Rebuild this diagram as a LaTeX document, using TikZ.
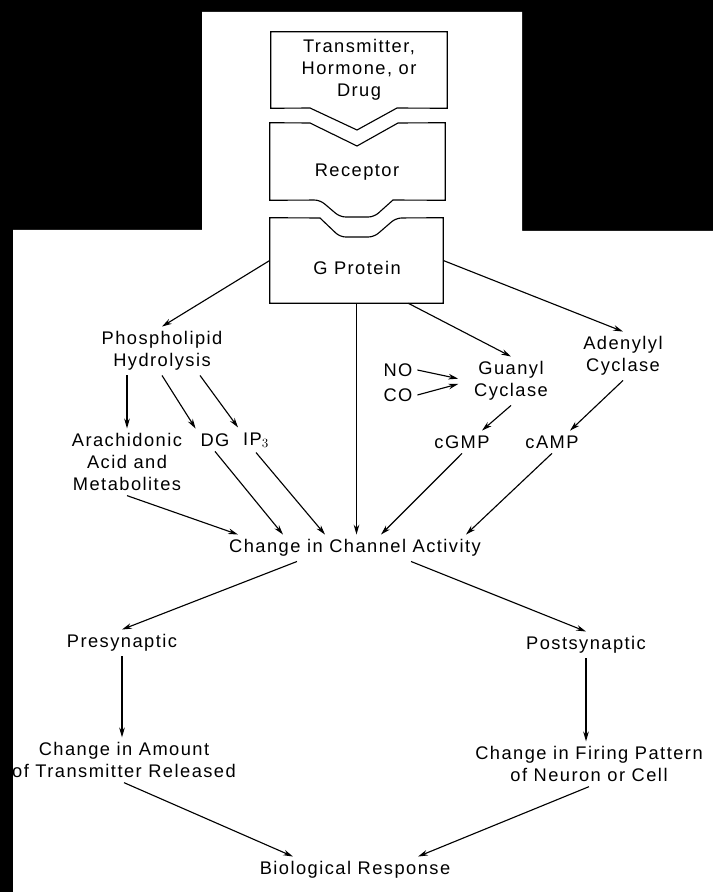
\documentclass[tikz,border=0pt]{standalone}
\usepackage{fontspec}
\setmainfont{Liberation Sans}[LetterSpace=8]
\usepackage{tikz}
\usetikzlibrary{arrows.meta}

\begin{document}
\begin{tikzpicture}[x=0.025cm,y=-0.025cm,
  every node/.style={font=\fontsize{13}{15.6}\selectfont,align=center},
  box/.style={inner sep=0pt},
  arr/.style={-{Stealth[length=7pt,width=4pt]},line width=0.8pt}]
  \useasboundingbox (0,0) rectangle (713,892);
  \fill[black] (0,0) rectangle (713,892);
  \fill[white] (13,230) -- (202,230) -- (202,12) -- (522,12) -- (522,231)
    -- (713,231) -- (713,892) -- (13,892) -- cycle;

  \node (tr)    at (359,70)     [box,minimum width=4.4cm,minimum height=1.9cm] {Transmitter,\\Hormone, or\\Drug};
  \node (rc)    at (357.5,161.5) [box,minimum width=4.375cm,minimum height=1.925cm] {};
  \node (rctxt) at (357,172)    {Receptor};
  \node (gp)    at (356.5,260.5) [box,minimum width=4.325cm,minimum height=2.125cm] {};
  \node (gptxt) at (357,268)    {G Protein};

  \draw[line width=0.8pt] (tr.north west) -- (tr.north east) -- (tr.south east)
    -- (397,108) -- (357,130) -- (310,108) -- (tr.south west) -- cycle;
  \draw[line width=0.8pt] (rc.north west) -- (310,123) -- (357,146) -- (398,123)
    -- (rc.north east) -- (rc.south east) -- (393,200) [rounded corners=4pt] -- (374,217)
    -- (340,217) -- (320,200) [sharp corners] -- (rc.south west) -- cycle;
  \draw[line width=0.8pt] (gp.north west) -- (320,218) [rounded corners=4pt] -- (340,237)
    -- (374,237) -- (396,218) [sharp corners] -- (gp.north east) -- (gp.south east)
    -- (gp.south west) -- cycle;

  \node (phos)  at (162,351) {Phospholipid\\Hydrolysis};
  \node (arach) at (127,462) {Arachidonic\\Acid and\\Metabolites};
  \node (dg)    at (215,440) {DG};
  \node (ip)    at (256,440) {IP$_3$};
  \node (no)    at (398,370) {NO};
  \node (co)    at (398,395) {CO};
  \node (guan)  at (511,381) {Guanyl\\Cyclase};
  \node (aden)  at (623,356) {Adenylyl\\Cyclase};
  \node (cgmp)  at (462,442) {cGMP};
  \node (camp)  at (552,442) {cAMP};
  \node (chg)   at (355,548) {Change in Channel Activity};
  \node (pre)   at (122,643) {Presynaptic};
  \node (post)  at (586,645) {Postsynaptic};
  \node (amt)   at (124,760) {Change in Amount\\of Transmitter Released};
  \node (fir)   at (589,764) {Change in Firing Pattern\\of Neuron or Cell};
  \node (bio)   at (355,870) {Biological Response};

  \draw[arr] (node cs:name=gp,anchor=west) -- (node cs:name=phos,anchor=north);
  \draw[arr] (node cs:name=gp,anchor=south) -- (gp.south |- chg.north);
  \draw[arr] ([xshift=-0.875cm]gp.south east) -- (node cs:name=guan,anchor=north);
  \draw[arr] (node cs:name=gp,anchor=east) -- (node cs:name=aden,anchor=north);
  \draw[arr,shorten >=8pt] (no.east) -- (guan.west);
  \draw[arr,shorten >=8pt] (co.east) -- (guan.west);
  \draw[arr] (guan.south) -- ([xshift=0.5cm]cgmp.north);
  \draw[arr] (aden.south) -- ([xshift=0.45cm]camp.north);

  \draw[arr] (phos.south -| arach.north) -- (arach.north);
  \draw[arr] (phos.south) -- (dg.north west);
  \draw[arr] ([xshift=0.95cm]phos.south) -- (ip.north west);

  \draw[arr] (arach.south) -- ([xshift=-2.925cm]chg.north);
  \draw[arr] (dg.south) -- ([xshift=-1.8cm]chg.north);
  \draw[arr] (ip.south) -- ([xshift=-0.75cm]chg.north);
  \draw[arr] (cgmp.south) -- ([xshift=0.65cm]chg.north);
  \draw[arr] (camp.south) -- ([xshift=2.775cm]chg.north);

  \draw[arr] ([xshift=-1.45cm]chg.south) -- (pre.north);
  \draw[arr] ([xshift=1.4cm]chg.south) -- (post.north);
  \draw[arr] (pre.south) -- (pre.south |- amt.north);
  \draw[arr] (post.south) -- (post.south |- fir.north);
  \draw[arr] (amt.south) -- ([xshift=-1.55cm]bio.north);
  \draw[arr] (fir.south) -- ([xshift=1.575cm]bio.north);
\end{tikzpicture}
\end{document}
